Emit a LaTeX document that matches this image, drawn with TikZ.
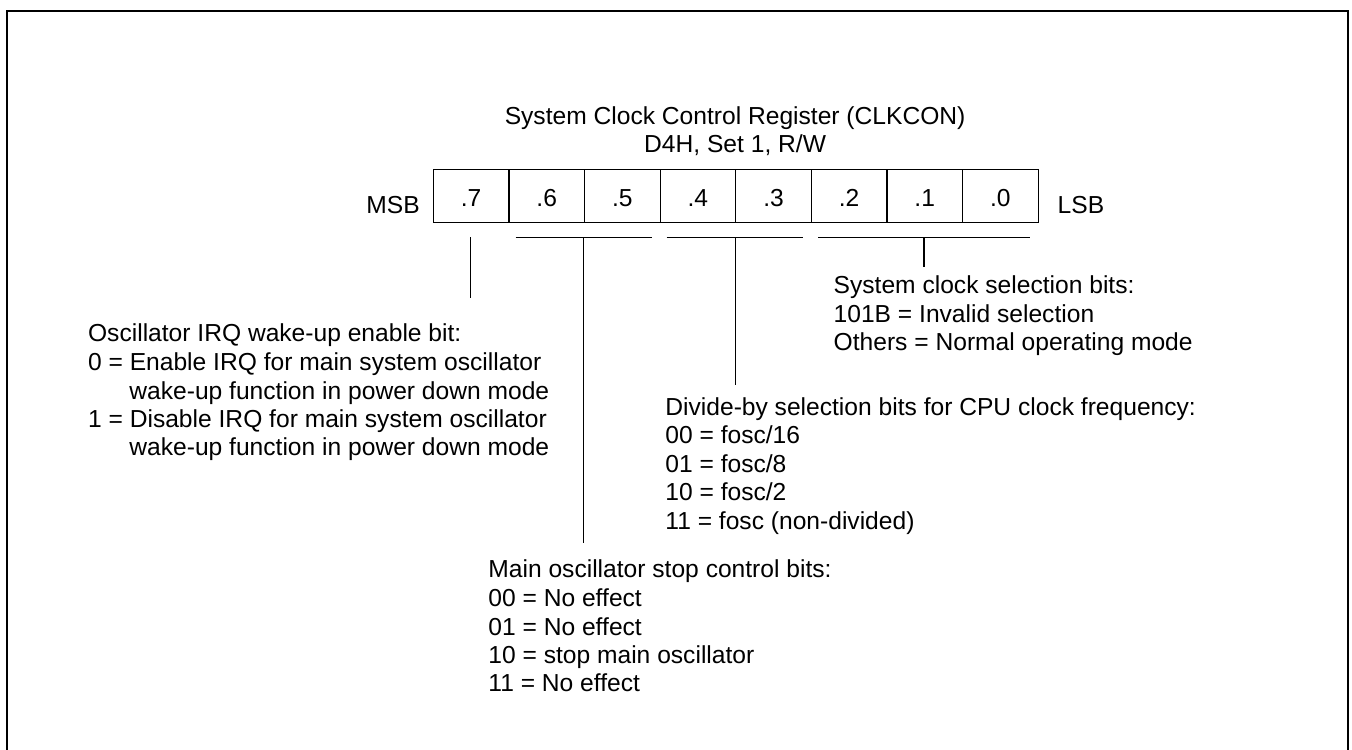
\documentclass[tikz,border=0pt]{standalone}
\usepackage{fontspec}
\setmainfont{Liberation Sans}
\begin{document}
\begin{tikzpicture}[x=0.5pt,y=-0.5pt,
  txt/.style={anchor=base west,inner sep=0pt,font=\fontsize{12.3}{14}\selectfont},
  ctxt/.style={anchor=base,inner sep=0pt,font=\fontsize{12.3}{14}\selectfont},
  cell/.style={draw,line width=0.6pt,minimum width=37.8pt,minimum height=26.5pt,
    inner sep=0pt,anchor=north west,text height=10pt,text depth=0pt,
    font=\fontsize{12.3}{14}\selectfont},
  conn/.style={line width=0.55pt},
  frame/.style={line width=1pt}]
\useasboundingbox (0,0) rectangle (1352,749);
\clip (0,0) rectangle (1352,749);
\draw[frame] (7,11) rectangle (1348,770);

% title
\node[ctxt] (title1) at (735.1,124) {System Clock Control Register (CLKCON)};
\node[ctxt] (title2) at (735.1,152.7) {D4H, Set 1, R/W};

% register cells
\node[cell] (c7) at (432.7,169) {.7};
\node[cell] (c6) at (508.3,169) {.6};
\node[cell] (c5) at (583.9,169) {.5};
\node[cell] (c4) at (659.5,169) {.4};
\node[cell] (c3) at (735.1,169) {.3};
\node[cell] (c2) at (810.7,169) {.2};
\node[cell] (c1) at (886.3,169) {.1};
\node[cell] (c0) at (961.9,169) {.0};

\node[txt] (msb) at (366,213.3) {MSB};
\node[txt] (lsb) at (1057.3,213.3) {LSB};

% bracket coordinates
\coordinate (b7t) at (470.7,237.3);
\coordinate (b7b) at (470.7,298);
\coordinate (s1a) at (515.7,237.3);
\coordinate (s1b) at (652.3,237.3);
\coordinate (s1m) at (583.9,237.3);
\coordinate (s1e) at (583.9,543);
\coordinate (s2a) at (666.7,237.3);
\coordinate (s2b) at (803.3,237.3);
\coordinate (s2m) at (735.1,237.3);
\coordinate (s2e) at (735.1,385);
\coordinate (s3a) at (818.3,237.3);
\coordinate (s3b) at (1030,237.3);
\coordinate (s3m) at (924,237.3);
\coordinate (s3e) at (924,267);

\draw[conn] (b7t) -- (b7b);
\draw[conn] (s1a) -- (s1b);
\draw[conn] (s1m) -- (s1e);
\draw[conn] (s2a) -- (s2b);
\draw[conn] (s2m) -- (s2e);
\draw[conn] (s3a) -- (s3b);
\draw[conn] (s3m) -- (s3e);

% bit 7 description
\node[txt] (a1) at (87.7,341.7) {Oscillator IRQ wake-up enable bit:};
\node[txt] (a2) at (87.7,370.7) {0 = Enable IRQ for main system oscillator};
\node[txt] (a3) at (129,399) {wake-up function in power down mode};
\node[txt] (a4) at (87.7,427.7) {1 = Disable IRQ for main system oscillator};
\node[txt] (a5) at (129,455.7) {wake-up function in power down mode};

% bits 2-0 description
\node[txt] (b1) at (833.3,293.3) {System clock selection bits:};
\node[txt] (b2) at (833.3,322) {101B = Invalid selection};
\node[txt] (b3) at (833.3,350) {Others = Normal operating mode};

% bits 4-3 description
\node[txt] (d1) at (665,415) {Divide-by selection bits for CPU clock frequency:};
\node[txt] (d2) at (665,443.3) {00 = fosc/16};
\node[txt] (d3) at (665,472) {01 = fosc/8};
\node[txt] (d4) at (665,500) {10 = fosc/2};
\node[txt] (d5) at (665,529) {11 = fosc (non-divided)};

% bits 6-5 description
\node[txt] (m1) at (488,577.3) {Main oscillator stop control bits:};
\node[txt] (m2) at (488,606) {00 = No effect};
\node[txt] (m3) at (488,635) {01 = No effect};
\node[txt] (m4) at (488,663.3) {10 = stop main oscillator};
\node[txt] (m5) at (488,691.7) {11 = No effect};
\end{tikzpicture}
\end{document}
